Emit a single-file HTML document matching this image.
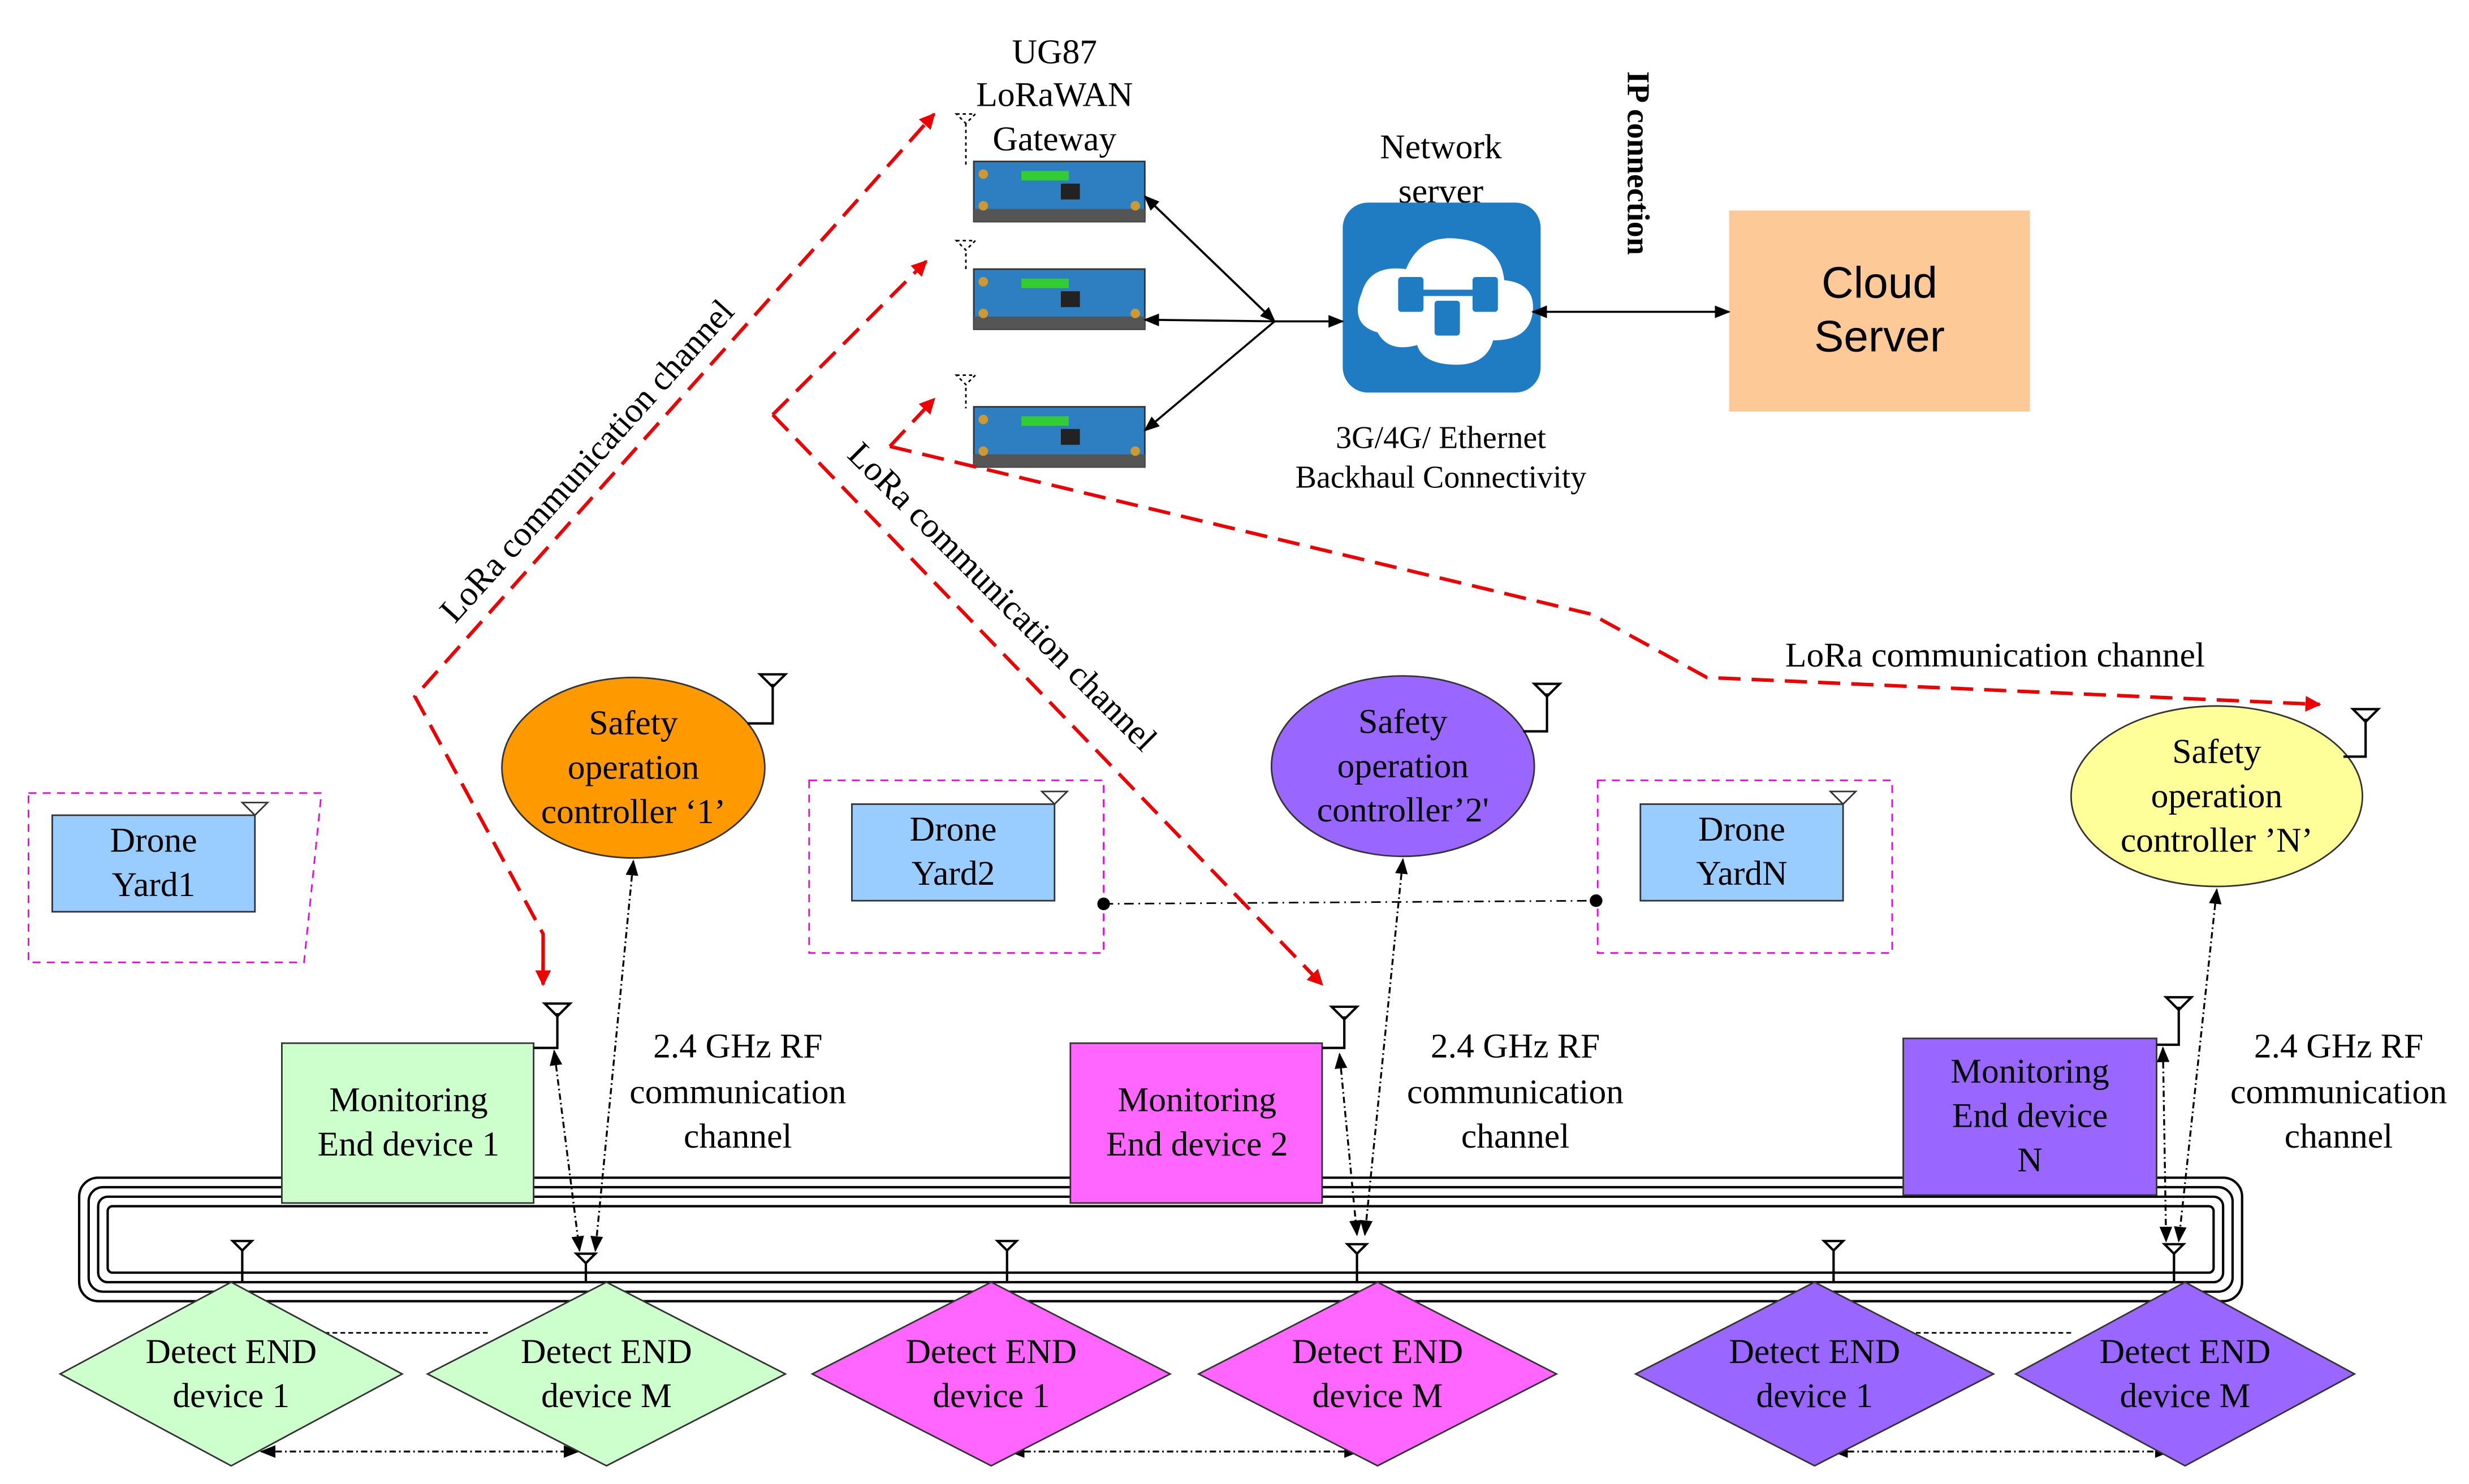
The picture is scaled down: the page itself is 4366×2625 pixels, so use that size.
<!DOCTYPE html>
<html><head><meta charset="utf-8"><style>html,body{margin:0;padding:0;background:#fff}svg{display:block;font-family:"Liberation Serif",serif}</style></head>
<body>
<svg width="4366" height="2625" viewBox="0 0 1559.3 937.5" preserveAspectRatio="none" xmlns="http://www.w3.org/2000/svg">
<defs>
<marker id="ar" markerWidth="10" markerHeight="10" refX="9" refY="5" orient="auto" markerUnits="userSpaceOnUse"><path d="M0,0 L10,5 L0,10 z" fill="#e00"/></marker>
<marker id="ak" markerWidth="10" markerHeight="10" refX="9" refY="5" orient="auto-start-reverse" markerUnits="userSpaceOnUse"><path d="M0,1 L10,5 L0,9 z" fill="#000"/></marker>
<g id="gw">
<rect x="0" y="0" width="108" height="38" fill="#2d7fc1" stroke="#333"/>
<rect x="0" y="30" width="108" height="8" fill="#555"/>
<rect x="30" y="6" width="30" height="6" fill="#3c3"/>
<rect x="55" y="14" width="12" height="10" fill="#222"/>
<circle cx="6" cy="8" r="3" fill="#c93"/><circle cx="6" cy="28" r="3" fill="#c93"/><circle cx="102" cy="28" r="3" fill="#c93"/>
</g>
</defs>

<g font-size="22" text-anchor="middle"><text x="666" y="40">UG87</text><text x="666" y="67">LoRaWAN</text><text x="666" y="95">Gateway</text></g>
<use href="#gw" x="615" y="102"/><use href="#gw" x="615" y="170"/><use href="#gw" x="615" y="257"/>
<g stroke="#000" stroke-dasharray="2,2" fill="none"><path d="M610,78 V104 M610,160 V172 M610,245 V258"/><path d="M604,72 h12 l-6,6z M604,152 h12 l-6,6z M604,237 h12 l-6,6z"/></g>

<g font-size="22" text-anchor="middle"><text x="910" y="100">Network</text><text x="910" y="128">server</text></g>
<rect x="848" y="128" width="125" height="120" rx="16" fill="#1f7cc2"/>
<path d="M870,210 q-18,-5 -10,-25 q5,-18 28,-15 q10,-25 40,-18 q20,5 22,25 q20,2 18,20 q-2,18 -25,18 q-5,18 -30,15 q-15,-2 -18,-12 q-18,5 -25,-8z" fill="#fff"/>
<g fill="#1f7cc2"><rect x="883" y="175" width="16" height="22" rx="2"/><rect x="930" y="175" width="16" height="22" rx="2"/><rect x="906" y="190" width="16" height="22" rx="2"/><rect x="897" y="183" width="35" height="4"/></g>
<text x="1028" y="45" font-size="20" font-weight="bold" transform="rotate(90 1028 45)">IP connection</text>
<rect x="1092" y="133" width="190" height="127" fill="#fdc997"/>
<g font-size="28" text-anchor="middle" style="font-family:'Liberation Sans',sans-serif"><text x="1187" y="188">Cloud</text><text x="1187" y="222">Server</text></g>
<g font-size="20" text-anchor="middle"><text x="910" y="283">3G/4G/ Ethernet</text><text x="910" y="308">Backhaul Connectivity</text></g>

<g stroke="#000" stroke-width="1.3" fill="none">
<line x1="805" y1="203" x2="723" y2="124" marker-end="url(#ak)"/>
<line x1="805" y1="203" x2="723" y2="202" marker-end="url(#ak)"/>
<line x1="805" y1="203" x2="723" y2="272" marker-end="url(#ak)"/>
<line x1="723" y1="124" x2="805" y2="203" marker-end="url(#ak)"/>
<line x1="805" y1="203" x2="848" y2="203" marker-end="url(#ak)"/>
<line x1="968" y1="197" x2="1092" y2="197" marker-start="url(#ak)" marker-end="url(#ak)"/>
</g>

<g stroke="#e00" stroke-width="2.2" fill="none" stroke-dasharray="14,7">
<path d="M343,622 V590 L262,440 L590,72" marker-end="url(#ar)"/>
<path d="M343,600 V622" marker-end="url(#ar)" stroke-dasharray="none"/>
<path d="M488,262 L585,165" marker-end="url(#ar)"/>
<path d="M488,262 L835,622" marker-end="url(#ar)"/>
<path d="M562,282 L590,252" marker-end="url(#ar)"/>
<path d="M562,282 L1005,388 L1078,428 L1465,445" marker-end="url(#ar)"/>
</g>
<g font-size="22"><text x="376" y="296" text-anchor="middle" transform="rotate(-48 376 296)">LoRa communication channel</text>
<text x="628" y="382" text-anchor="middle" transform="rotate(45 628 382)">LoRa communication channel</text>
<text x="1260" y="421" text-anchor="middle">LoRa communication channel</text></g>

<ellipse cx="400" cy="485" rx="83" ry="57" fill="#ff9900" stroke="#333"/>
<ellipse cx="886" cy="484" rx="83" ry="57" fill="#9966ff" stroke="#333"/>
<ellipse cx="1400" cy="503" rx="92" ry="57" fill="#ffff99" stroke="#333"/>
<g font-size="22" text-anchor="middle">
<text x="400" y="464">Safety</text><text x="400" y="492">operation</text><text x="400" y="520">controller ‘1’</text>
<text x="886" y="463">Safety</text><text x="886" y="491">operation</text><text x="886" y="519">controller’2'</text>
<text x="1400" y="482">Safety</text><text x="1400" y="510">operation</text><text x="1400" y="538">controller ’N’</text></g>
<g stroke="#000" stroke-width="1.5" fill="none">
<path d="M472,457 H488 V432 M480,426 h16 l-8,8z"/><path d="M962,462 H977 V438 M969,432 h16 l-8,8z"/><path d="M1480,478 H1494 V454 M1486,448 h16 l-8,8z"/></g>

<g stroke="#e0e" stroke-dasharray="5,4" fill="none"><path d="M18,501 H203 L192,608 H18z"/><rect x="511" y="493" width="186" height="109"/><rect x="1009" y="493" width="186" height="109"/></g>
<g fill="#99ccff" stroke="#333"><rect x="33" y="515" width="128" height="61"/><rect x="538" y="508" width="128" height="61"/><rect x="1036" y="508" width="128" height="61"/></g>
<g stroke="#333" fill="#fff"><path d="M153,507 h16 l-8,8z M658,500 h16 l-8,8z M1156,500 h16 l-8,8z"/></g>
<g font-size="22" text-anchor="middle"><text x="97" y="538">Drone</text><text x="97" y="566">Yard1</text>
<text x="602" y="531">Drone</text><text x="602" y="559">Yard2</text><text x="1100" y="531">Drone</text><text x="1100" y="559">YardN</text></g>
<line x1="697" y1="571" x2="1008" y2="569" stroke="#000" stroke-dasharray="6,3,1,3"/>
<circle cx="697" cy="571" r="4"/><circle cx="1008" cy="569" r="4"/>

<g fill="none" stroke="#000" stroke-width="1.5">
<rect x="50" y="744" width="1366" height="78" rx="12"/>
<rect x="56" y="750" width="1354" height="66" rx="9"/>
<rect x="62" y="756" width="1342" height="54" rx="6"/>
<rect x="68" y="762" width="1330" height="42" rx="3"/>
</g>

<rect x="178" y="659" width="159" height="101" fill="#ccffcc" stroke="#333"/>
<rect x="676" y="659" width="159" height="101" fill="#ff66ff" stroke="#333"/>
<rect x="1202" y="656" width="160" height="99" fill="#9966ff" stroke="#333"/>
<g font-size="22" text-anchor="middle"><text x="258" y="702">Monitoring</text><text x="258" y="730">End device 1</text>
<text x="756" y="702">Monitoring</text><text x="756" y="730">End device 2</text>
<text x="1282" y="684">Monitoring</text><text x="1282" y="712">End device</text><text x="1282" y="740">N</text>
<text x="466" y="668">2.4 GHz RF</text><text x="466" y="697">communication</text><text x="466" y="725">channel</text>
<text x="957" y="668">2.4 GHz RF</text><text x="957" y="697">communication</text><text x="957" y="725">channel</text>
<text x="1477" y="668">2.4 GHz RF</text><text x="1477" y="697">communication</text><text x="1477" y="725">channel</text></g>
<g stroke="#000" stroke-width="1.5" fill="none">
<path d="M337,662 H352 V640 M344,634 h16 l-8,8z"/><path d="M835,662 H849 V642 M841,636 h16 l-8,8z"/><path d="M1362,660 H1376 V636 M1368,630 h16 l-8,8z"/></g>

<g stroke="#000" stroke-width="1.2" fill="none" stroke-dasharray="4,2,1,2">
<line x1="350" y1="664" x2="366" y2="790" marker-start="url(#ak)" marker-end="url(#ak)"/>
<line x1="400" y1="544" x2="376" y2="790" marker-start="url(#ak)" marker-end="url(#ak)"/>
<line x1="846" y1="666" x2="857" y2="780" marker-start="url(#ak)" marker-end="url(#ak)"/>
<line x1="886" y1="543" x2="862" y2="780" marker-start="url(#ak)" marker-end="url(#ak)"/>
<line x1="1366" y1="662" x2="1368" y2="784" marker-start="url(#ak)" marker-end="url(#ak)"/>
<line x1="1400" y1="562" x2="1376" y2="784" marker-start="url(#ak)" marker-end="url(#ak)"/>
<line x1="165" y1="917" x2="365" y2="917" marker-start="url(#ak)" marker-end="url(#ak)"/>
<line x1="638" y1="917" x2="858" y2="917" marker-start="url(#ak)" marker-end="url(#ak)"/>
<line x1="1158" y1="917" x2="1370" y2="917" marker-start="url(#ak)" marker-end="url(#ak)"/>
</g>
<g stroke="#000" stroke-dasharray="3,2"><line x1="200" y1="842" x2="310" y2="842"/><line x1="1200" y1="842" x2="1310" y2="842"/></g>

<g stroke="#333">
<path d="M146,810 L254,868 L146,926 L38,868z" fill="#ccffcc"/>
<path d="M383,810 L496,868 L383,926 L270,868z" fill="#ccffcc"/>
<path d="M626,810 L739,868 L626,926 L513,868z" fill="#ff66ff"/>
<path d="M870,810 L983,868 L870,926 L757,868z" fill="#ff66ff"/>
<path d="M1146,810 L1259,868 L1146,926 L1033,868z" fill="#9966ff"/>
<path d="M1380,810 L1487,868 L1380,926 L1273,868z" fill="#9966ff"/>
</g>
<g stroke="#000" stroke-width="1.5" fill="none">
<path d="M153,810 V790 M147,784 h12 l-6,6z M370,810 V798 M364,792 h12 l-6,6z M636,810 V790 M630,784 h12 l-6,6z M857,810 V792 M851,786 h12 l-6,6z M1158,810 V790 M1152,784 h12 l-6,6z M1373,810 V792 M1367,786 h12 l-6,6z"/></g>
<g font-size="22" text-anchor="middle">
<text x="146" y="861">Detect END</text><text x="146" y="889">device 1</text>
<text x="383" y="861">Detect END</text><text x="383" y="889">device M</text>
<text x="626" y="861">Detect END</text><text x="626" y="889">device 1</text>
<text x="870" y="861">Detect END</text><text x="870" y="889">device M</text>
<text x="1146" y="861">Detect END</text><text x="1146" y="889">device 1</text>
<text x="1380" y="861">Detect END</text><text x="1380" y="889">device M</text></g>
</svg>
</body></html>
